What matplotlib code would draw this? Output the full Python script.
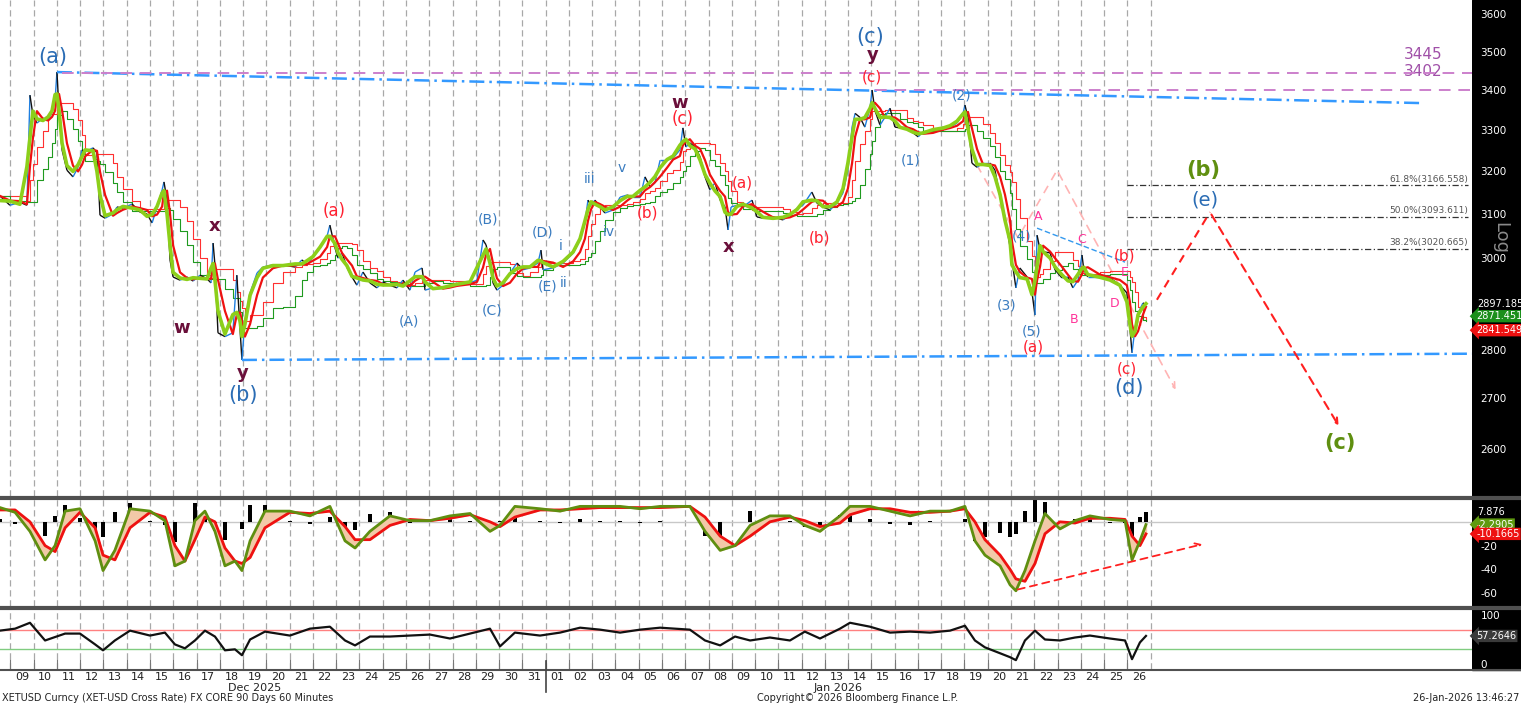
import numpy as np
import pandas as pd
import matplotlib
matplotlib.use("Agg")
import matplotlib.pyplot as plt
from matplotlib.collections import LineCollection
from matplotlib.lines import Line2D
from matplotlib.patches import Rectangle
import matplotlib.ticker as mticker

# ---------------- data (time in days since 09-Dec-2025 00:00) ----------------
price_t = [-0.45, -0.02, 0.41, 0.71, 0.84, 0.97, 1.14, 1.40, 1.62, 1.79, 1.92, 2.00, 2.09, 2.22, 2.43, 2.69,
           2.91, 3.08, 3.21, 3.55, 3.72, 3.85, 4.07, 4.41, 4.58, 4.84, 5.23, 5.57, 5.87, 6.09, 6.30, 6.52,
           6.60, 6.73, 6.86, 6.99, 7.29, 7.59, 7.85, 8.15, 8.45, 8.62, 8.71, 8.79, 8.92, 9.22, 9.56, 9.73,
           9.87, 9.95, 10.08, 10.30, 10.60, 10.85, 11.28, 11.71, 12.23, 12.53, 12.75, 13.00, 13.31, 13.61,
           13.73, 13.95, 14.08, 14.25, 14.46, 14.68, 14.89, 15.15, 15.45, 15.75, 16.01, 16.31, 16.61, 16.87,
           17.17, 17.39, 17.69, 17.82, 18.16, 18.59, 18.89, 19.19, 19.75, 20.05, 20.31, 20.44, 20.61, 20.74,
           20.91, 21.17, 21.47, 21.77, 22.03, 22.33, 22.67, 22.80, 22.89, 23.32, 23.75, 24.18, 24.48, 24.69,
           24.82, 24.95, 25.12, 25.34, 25.55, 25.90, 26.20, 26.50, 26.75, 27.06, 27.27, 27.49, 27.70, 27.92,
           28.22, 28.48, 28.77, 28.90, 29.03, 29.20, 29.42, 29.64, 29.85, 30.06, 30.28, 30.50, 30.71, 30.84,
           30.97, 31.22, 31.48, 31.87, 32.08, 32.34, 32.77, 33.20, 33.50, 33.80, 34.06, 34.44, 34.66, 34.92,
           35.22, 35.52, 35.78, 35.99, 36.17, 36.30, 36.51, 36.72, 36.94, 37.03, 37.15, 37.37, 37.58, 37.80,
           38.01, 38.23, 38.53, 38.79, 39.01, 39.22, 39.65, 40.08, 40.38, 40.68, 40.94, 41.02, 41.15, 41.32,
           41.54, 41.80, 42.10, 42.31, 42.53, 42.74, 42.96, 43.04, 43.21, 43.38, 43.69, 43.90, 44.03, 44.12,
           44.25, 44.38, 44.68, 44.89, 45.19, 45.45, 45.66, 45.88, 46.05, 46.13, 46.30, 46.82, 47.25, 47.68,
           47.98, 48.11, 48.20, 48.33, 48.46, 48.67, 48.80]
price = [3142, 3120, 3127, 3120, 3388, 3337, 3318, 3330, 3325, 3345, 3376, 3447, 3350, 3252, 3203, 3187,
         3210, 3252, 3247, 3257, 3245, 3097, 3090, 3100, 3116, 3113, 3123, 3104, 3100, 3079, 3116, 3156,
         3175, 3132, 2995, 2957, 2950, 2957, 2948, 2961, 2953, 2944, 3033, 2984, 2836, 2828, 2836, 2961,
         2842, 2779, 2863, 2922, 2966, 2979, 2984, 2984, 2979, 2995, 2984, 3001, 3022, 3049,
         3074, 3022, 2999, 3011, 2979, 2957, 2939, 2968, 2944, 2933, 2946, 2939, 2933, 2950,
         2928, 2968, 2977, 2928, 2933, 2933, 2935, 2944, 2944, 2950, 3040, 3029, 2990, 2944,
         2928, 2939, 2966, 2988, 2973, 2977, 2988, 3017, 2973, 2977, 2988, 3010, 3040, 3079,
         3132, 3120, 3132, 3116, 3102, 3109, 3139, 3144, 3139, 3139, 3187, 3163, 3173, 3227,
         3227, 3232, 3252, 3306, 3259, 3269, 3259, 3235, 3187, 3156, 3173, 3132, 3116, 3063,
         3116, 3120, 3116, 3132, 3093, 3090, 3093, 3086, 3097, 3113, 3120, 3151, 3125, 3116,
         3109, 3125, 3149, 3203, 3308, 3342, 3332, 3308, 3355, 3401, 3350, 3313, 3332, 3355,
         3308, 3306, 3308, 3294, 3284, 3296, 3301, 3308, 3308, 3318, 3342, 3363, 3332, 3220,
         3210, 3220, 3220, 3203, 3139, 3093, 3024, 2995, 2933, 2977, 2957, 2924, 2874, 3051,
         3017, 3013, 3011, 2973, 2955, 2957, 2933, 2950, 3006, 2973, 2957, 2957, 2955, 2939,
         2922, 2846, 2794, 2846, 2878, 2900, 2897]

osc_t = [-0.45, 0.20, 0.84, 1.49, 1.92, 2.35, 2.99, 3.64, 3.98, 4.49, 5.14, 6.00, 6.64, 7.07, 7.50, 7.93,
         8.36, 8.79, 9.22, 9.65, 9.95, 10.30, 10.94, 12.01, 12.87, 13.73, 14.38, 14.81, 15.45, 16.31, 17.17,
         18.03, 18.89, 19.75, 20.61, 21.04, 21.68, 22.76, 23.62, 24.48, 25.34, 26.20, 27.06, 27.92, 29.20,
         29.85, 30.50, 31.14, 31.79, 32.64, 33.50, 34.14, 34.79, 35.65, 36.08, 36.94, 37.80, 38.66, 39.52,
         40.38, 41.02, 41.45, 41.88, 42.53, 42.96, 43.21, 43.60, 44.03, 44.46, 45.10, 45.75, 46.39, 47.25,
         47.90, 48.20, 48.54, 48.80]
osc_fast = [12, 8, -8, -32, -20, 9, 11, -16, -41, -24, 11, 9, 1, -37, -33, 1,
            9, -8, -37, -33, -41, -16, 9, 9, 5, 13, -16, -22, -8, 5, 1,
            1, 5, 7, -8, -3, 13, 11, 9, 13, 13, 13, 11, 13, 13,
            -8, -24, -20, -3, 5, 5, -3, -8, 5, 13, 13, 9, 5, 9,
            9, 13, -16, -28, -37, -53, -58, -41, -16, 7, -6, 1, 5, 2,
            1, -32, -16, -2.29]
osc_slow = [10, 10, 0, -20, -25, -5, 8, -5, -28, -32, -5, 8, 4, -20, -33, -15,
            4, 0, -22, -33, -35, -30, -5, 8, 7, 9, -4, -15, -15, -3, 2,
            1, 3, 6, 0, -4, 4, 10, 10, 11, 12, 12, 12, 12, 13,
            4, -12, -20, -12, 0, 4, 1, -4, -1, 6, 11, 11, 8, 8,
            9, 11, 0, -15, -28, -40, -48, -50, -35, -10, 0, -1, 3, 3,
            2, -12, -20, -10.17]
rsi = [68, 72, 84, 48, 55, 62, 62, 40, 28, 48, 68, 58, 64, 40, 32, 48,
       68, 56, 28, 30, 18, 50, 66, 58, 72, 76, 48, 38, 56, 56, 58,
       60, 52, 62, 72, 36, 64, 58, 64, 74, 70, 64, 70, 74, 70,
       48, 38, 56, 48, 54, 48, 66, 52, 72, 84, 76, 64, 66, 64,
       68, 78, 48, 34, 22, 14, 8, 48, 68, 50, 48, 54, 58, 52,
       48, 10, 44, 57.26]

price_ticks = [2600, 2700, 2800, 3000, 3100, 3200, 3300, 3400, 3500, 3600]
fib_levels = [3166.558, 3093.611, 3020.665]
fib_names = ["61.8%", "50.0%", "38.2%"]
resist_levels = [3445, 3402]
day_labels = [f"{d:02d}" for d in range(9, 32)] + [f"{d:02d}" for d in range(1, 27)]
last_vals = {"close": 2897.185, "ma_g": 2871.451, "ma_r": 2841.549}
osc_last = {"top": 7.876, "fast": -2.2905, "slow": -10.1665}
rsi_last = 57.2646

# ---------------- layout ----------------
W, H = 1521, 704
fig = plt.figure(figsize=(W / 100, H / 100), dpi=100)
plt.rcParams["font.family"] = ["DejaVu Sans"]


def rect(x0, y0, x1, y1):
    return [x0 / W, 1 - y1 / H, (x1 - x0) / W, (y1 - y0) / H]


XL = (-10.4 / 23.27, (1472 - 10.4) / 23.27)
fig.patches.append(Rectangle((1472 / W, 1 - 670 / H), (W - 1472) / W, 670 / H,
                             transform=fig.transFigure, color="black", zorder=-10))

ax = fig.add_axes(rect(0, 0, 1472, 496))
axo = fig.add_axes(rect(0, 499, 1472, 606))
axr = fig.add_axes(rect(0, 609, 1472, 669))
for a in (ax, axo, axr):
    a.set_xlim(*XL)
    for s in a.spines.values():
        s.set_visible(False)
    a.yaxis.tick_right()
    a.tick_params(axis="y", length=0, pad=6, labelcolor="white", labelsize=7.5)
    for d in range(0, 50):
        a.axvline(d, color="#a8a8a8", lw=0.9, ls=(0, (5, 3)), zorder=0)
ax.set_xticks([]); axo.set_xticks([])

# separators
for yy, lw in ((497.5, 3), (607.5, 3), (669.5, 1.5)):
    fig.add_artist(Line2D([0, 1], [1 - yy / H] * 2, color="#505050", lw=lw))

# ---------------- main panel ----------------
ax.set_yscale("log")
ax.set_ylim(2510, 3638)
ax.yaxis.set_major_locator(mticker.FixedLocator(price_ticks))
ax.yaxis.set_major_formatter(mticker.FixedFormatter([str(v) for v in price_ticks]))
ax.yaxis.set_minor_locator(mticker.NullLocator())

t = np.array(price_t); p = np.array(price)
s = pd.Series(p)
env_r = s.rolling(5, min_periods=1).mean().rolling(3, min_periods=1).max()
env_g = s.rolling(6, min_periods=1).mean().rolling(3, min_periods=1).min()
ma_r = s.rolling(3, min_periods=1).mean()
ma_g = s.rolling(3, min_periods=1, center=True).mean()
ax.plot(t, env_r, color="#ff3030", lw=0.8, drawstyle="steps-post", zorder=2)
ax.plot(t, env_g, color="#1f9a1f", lw=0.8, drawstyle="steps-post", zorder=2)
pts = np.column_stack([t, p])
segs = np.stack([pts[:-1], pts[1:]], axis=1)
cols = np.where(np.diff(p) >= 0, "#1f7fe0", "#111111")
ax.add_collection(LineCollection(segs, colors=cols, lw=1.0, zorder=3))
ax.plot(t, ma_r, color="#ee1111", lw=1.6, zorder=4)
ax.plot(t, ma_g, color="#8ccf1a", lw=2.6, zorder=5)

# trend / level lines
ax.plot([2.0, 60.57], [3447, 3368], color="#3399ff", lw=1.8, ls=(0, (6, 2, 1, 2)), zorder=6)
ax.plot([9.95, 62.81], [2779, 2792], color="#3399ff", lw=1.8, ls=(0, (6, 2, 1, 2)), zorder=6)
ax.plot([2.2, 62.81], [resist_levels[0]] * 2, color="#cc80cc", lw=1.4, ls=(0, (6, 4)), zorder=6)
ax.plot([37.15, 62.81], [resist_levels[1]] * 2, color="#cc80cc", lw=1.4, ls=(0, (6, 4)), zorder=6)
for lvl in resist_levels:
    ax.text((1423 - 10.4) / 23.27, lvl * 1.008, str(lvl), color="#a050a8", fontsize=11,
            ha="center", va="bottom")
for lvl, nm in zip(fib_levels, fib_names):
    ax.plot([48.0, 62.65], [lvl, lvl], color="#333333", lw=0.9, ls=(0, (5, 2, 1, 2)), zorder=6)
    ax.text(62.65, lvl * 1.0012, f"{nm}({lvl})", color="#555555", fontsize=6.5, ha="right", va="bottom")
ax.plot([44.12, 47.9], [3067, 2990], color="#3399ee", lw=1.0, ls=(0, (4, 2)), zorder=6)
ax.plot([41.54, 43.3, 44.98], [3215, 3045, 3203], color="#ffb4b4", lw=1.2, ls=(0, (5, 4)), zorder=1)
ax.annotate("", xy=(50.13, 2713), xytext=(44.98, 3203),
            arrowprops=dict(arrowstyle="->", color="#ffb4b4", lw=1.2, ls=(0, (5, 4))), zorder=1)
ax.plot([49.27, 51.55], [2907, 3104], color="#ff2020", lw=1.5, ls=(0, (4, 3)), zorder=6)
ax.annotate("", xy=(57.14, 2641), xytext=(51.55, 3104),
            arrowprops=dict(arrowstyle="->", color="#ff2020", lw=1.5, ls=(0, (4, 3))), zorder=6)

# wave labels
BLUE, RED, MAR, SB, PINK, GRN = "#2a6cb4", "#ff2030", "#6a0f3a", "#3a7cc0", "#ff3399", "#5f8f10"
labels = [
    ("(a)", 1.83, 3486, BLUE, 15, "normal"), ("(b)", 9.99, 2707, BLUE, 15, "normal"),
    ("(c)", 36.94, 3539, BLUE, 15, "normal"), ("(d)", 48.07, 2721, BLUE, 15, "normal"),
    ("(e)", 51.34, 3132, BLUE, 14, "normal"), ("(b)", 51.25, 3203, GRN, 15, "bold"),
    ("(c)", 57.14, 2612, GRN, 15, "bold"),
    ("w", 7.37, 2846, MAR, 13, "bold"), ("x", 8.76, 3072, MAR, 13, "bold"), ("y", 9.99, 2752, MAR, 13, "bold"),
    ("y", 37.07, 3491, MAR, 13, "bold"), ("w", 28.77, 3368, MAR, 13, "bold"), ("x", 30.88, 3024, MAR, 13, "bold"),
    ("(a)", 13.9, 3107, RED, 12, "normal"), ("(c)", 28.9, 3327, RED, 12, "normal"),
    ("(a)", 31.44, 3173, RED, 11, "normal"), ("(b)", 27.36, 3102, RED, 11, "normal"),
    ("(b)", 34.79, 3045, RED, 11, "normal"), ("(c)", 37.03, 3434, RED, 11, "normal"),
    ("(b)", 47.86, 3004, RED, 11, "normal"), ("(a)", 43.95, 2806, RED, 11, "normal"),
    ("(c)", 47.98, 2760, RED, 11, "normal"),
    ("(A)", 17.13, 2861, SB, 10, "normal"), ("(B)", 20.52, 3088, SB, 10, "normal"),
    ("(C)", 20.7, 2883, SB, 10, "normal"), ("(D)", 22.89, 3056, SB, 10, "normal"),
    ("(E)", 23.1, 2935, SB, 10, "normal"), ("i", 23.66, 3026, SB, 10, "normal"),
    ("ii", 23.79, 2944, SB, 10, "normal"), ("iii", 24.91, 3182, SB, 10, "normal"),
    ("iv", 25.72, 3058, SB, 10, "normal"), ("v", 26.28, 3208, SB, 10, "normal"),
    ("(1)", 38.7, 3227, SB, 10, "normal"), ("(2)", 40.89, 3386, SB, 10, "normal"),
    ("(3)", 42.83, 2894, SB, 10, "normal"), ("(4)", 43.47, 3049, SB, 10, "normal"),
    ("(5)", 43.9, 2838, SB, 10, "normal"),
    ("A", 44.16, 3095, PINK, 9, "normal"), ("B", 45.71, 2865, PINK, 9, "normal"),
    ("C", 46.05, 3040, PINK, 9, "normal"), ("D", 47.47, 2898, PINK, 9, "normal"),
    ("E", 47.9, 2968, PINK, 9, "normal"),
]
for txt, xx, yy, c, fs, fw in labels:
    ax.text(xx, yy, txt, color=c, fontsize=fs, fontweight=fw, ha="center", va="center", zorder=8)


# right-side value badges
def badge(a, val, txt, fc, tc="white"):
    a.annotate(txt, xy=(1.0, val), xycoords=("axes fraction", "data"), xytext=(3, 0),
               textcoords="offset points", color=tc, fontsize=7, va="center", ha="left",
               bbox=dict(boxstyle="larrow,pad=0.12", fc=fc, ec="none"), annotation_clip=False)


def plain(a, val, txt):
    a.annotate(txt, xy=(1.0, val), xycoords=("axes fraction", "data"), xytext=(4, 0),
               textcoords="offset points", color="white", fontsize=7, va="center",
               annotation_clip=False)


plain(ax, last_vals["close"], f"{last_vals['close']}")
badge(ax, last_vals["ma_g"], f"{last_vals['ma_g']}", "#1b8f1b")
badge(ax, last_vals["ma_r"], f"{last_vals['ma_r']}", "#ee1111")
fig.text(1500 / W, 1 - 238 / H, "Log", color="#8a8a8a", fontsize=13, rotation=270, ha="center", va="center")

# ---------------- oscillator panel ----------------
ot = np.array(osc_t); of = np.array(osc_fast); osl = np.array(osc_slow)
axo.set_ylim(-70.8, 19.2)
axo.axhline(0, color="#c8c8c8", lw=1, zorder=1)
axo.bar(ot, of - osl, width=0.15, color="black", zorder=2)
axo.fill_between(ot, of, osl, color="#f2c9a8", zorder=2)
axo.plot(ot, osl, color="#ee1111", lw=2.0, zorder=3)
axo.plot(ot, of, color="#5f8f10", lw=2.0, zorder=4)
axo.annotate("", xy=(51.34, -18.3), xytext=(43.17, -57.5),
             arrowprops=dict(arrowstyle="->", color="#ff2020", lw=1.3, ls=(0, (4, 3))), zorder=6)
axo.yaxis.set_major_locator(mticker.FixedLocator([-20, -40, -60]))
axo.yaxis.set_major_formatter(mticker.FixedFormatter(["-20", "-40", "-60"]))
plain(axo, osc_last["top"], f"{osc_last['top']}")
badge(axo, osc_last["fast"], f"{osc_last['fast']}", "#5f9a10")
badge(axo, osc_last["slow"], f"{osc_last['slow']}", "#ee1111")

# ---------------- RSI panel ----------------
axr.set_ylim(-10, 112)
axr.axhline(70, color="#ff8080", lw=1)
axr.axhline(30, color="#80cc80", lw=1)
axr.plot(ot, rsi, color="#111111", lw=1.6, zorder=3)
axr.yaxis.set_major_locator(mticker.FixedLocator([0, 100]))
axr.yaxis.set_major_formatter(mticker.FixedFormatter(["0", "100"]))
badge(axr, rsi_last, f"{rsi_last}", "#3a3a3a")

axr.set_xticks(np.arange(0, 49))
axr.set_xticklabels([])
axr.set_xticks(np.arange(49) + 0.5, minor=True)
axr.set_xticklabels(day_labels, minor=True)
axr.tick_params(axis="x", which="major", direction="in", length=7, color="#777777")
axr.tick_params(axis="x", which="minor", length=0, pad=2, labelsize=8, labelcolor="#222222")
fig.add_artist(Line2D([545.6 / W] * 2, [1 - 661 / H, 1 - 692 / H], color="#444444", lw=1.2))

fig.text(255 / W, 1 - 688 / H, "Dec 2025", fontsize=8, ha="center", va="center", color="#222222")
fig.text(838 / W, 1 - 688 / H, "Jan 2026", fontsize=8, ha="center", va="center", color="#222222")
fig.text(2 / W, 1 - 698 / H, "XETUSD Curncy (XET-USD Cross Rate) FX CORE 90 Days 60 Minutes",
         fontsize=7, ha="left", va="center", color="#222222")
fig.text(858 / W, 1 - 698 / H, "Copyright\u00a9 2026 Bloomberg Finance L.P.", fontsize=7, ha="center",
         va="center", color="#222222")
fig.text(1519 / W, 1 - 698 / H, "26-Jan-2026 13:46:27", fontsize=7, ha="right", va="center", color="#222222")

fig.savefig("out.png", dpi=100)
